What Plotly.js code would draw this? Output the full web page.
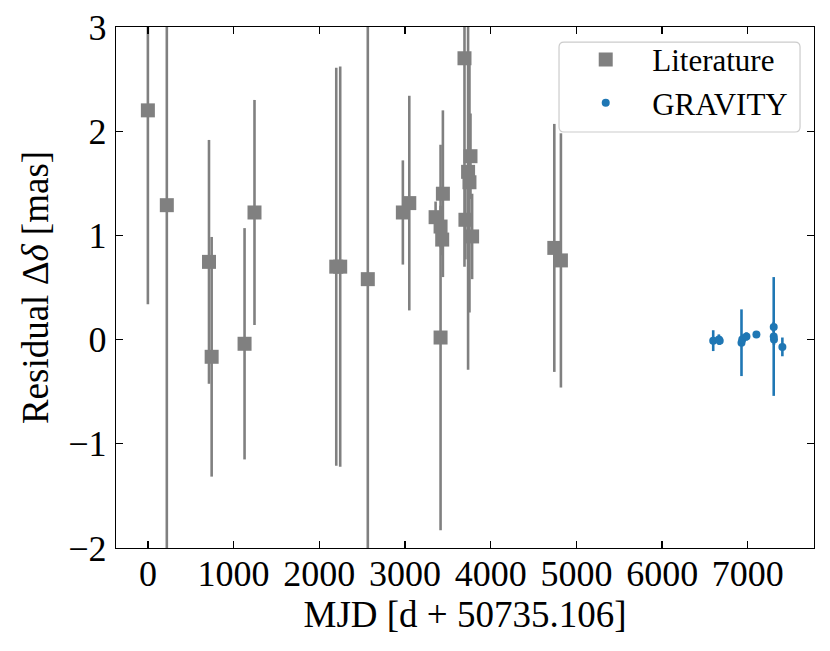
<!DOCTYPE html>
<html>
<head>
<meta charset="utf-8">
<script src="https://cdn.plot.ly/plotly-3.0.1.min.js"></script>
<style>html,body{margin:0;padding:0;background:#fff;}#chart{width:830px;height:651px;}</style>
</head>
<body>
<div id="chart"></div>
<script>
// Literature residuals
const litMJD = [0, 221, 713, 744, 1128, 1244, 2198, 2244, 2566, 2975, 3050, 3357, 3415, 3434, 3442, 3415, 3694, 3736, 3752, 3764, 3705, 3783, 4742, 4819];
const litRes = [2.20, 1.29, 0.746, -0.165, -0.04, 1.22, 0.70, 0.70, 0.58, 1.22, 1.31, 1.175, 1.085, 0.96, 1.40, 0.02, 2.70, 1.61, 1.51, 1.76, 1.15, 0.99, 0.88, 0.76];
const litErr = [1.86, 3.6, 1.17, 1.15, 1.11, 1.08, 1.91, 1.92, 4.0, 0.50, 1.03, 0.15, 0.20, 0.15, 0.80, 1.85, 2.0, 1.9, 1.25, 0.41, 0.38, 0.41, 1.19, 1.22];

// GRAVITY residuals
const gravMJD = [6596, 6662, 6672, 6926, 6935, 6984, 7100, 7302, 7302, 7305, 7403];
const gravRes = [-0.01, 0.0, -0.01, -0.03, 0.0, 0.03, 0.05, 0.12, 0.03, 0.0, -0.07];
const gravErr = [0.10, 0.05, 0.04, 0.32, 0.05, 0.04, 0.03, 0.05, 0.57, 0.05, 0.09];

const xTicks = [0, 1000, 2000, 3000, 4000, 5000, 6000, 7000];
const yTicks = [-2, -1, 0, 1, 2, 3];

const FONT = "Liberation Serif, Times New Roman, serif";

const traces = [
  {
    type: 'scatter', mode: 'markers', name: 'Literature',
    x: litMJD, y: litRes,
    error_y: {type: 'data', array: litErr, visible: true, color: '#808080', thickness: 2.6, width: 0},
    marker: {symbol: 'square', size: 14, color: '#808080', line: {width: 0}}
  },
  {
    type: 'scatter', mode: 'markers', name: 'GRAVITY',
    x: gravMJD, y: gravRes,
    error_y: {type: 'data', array: gravErr, visible: true, color: '#1f77b4', thickness: 2.6, width: 0},
    marker: {symbol: 'circle', size: 8, color: '#1f77b4', line: {width: 0}}
  }
];

const axisCommon = {
  showgrid: false, zeroline: false, showline: true, linecolor: '#000', linewidth: 1.3,
  mirror: 'ticks', ticks: 'inside', ticklen: 7, tickwidth: 1.3, tickcolor: '#000',
  tickfont: {family: FONT, size: 36, color: '#000'}
};

// legend frame (rounded rectangle, paper coordinates)
function roundedRect(x0, y0, x1, y1, rx, ry) {
  return `M ${x0 + rx},${y1} L ${x1 - rx},${y1} Q ${x1},${y1} ${x1},${y1 - ry} ` +
         `L ${x1},${y0 + ry} Q ${x1},${y0} ${x1 - rx},${y0} L ${x0 + rx},${y0} ` +
         `Q ${x0},${y0} ${x0},${y0 + ry} L ${x0},${y1 - ry} Q ${x0},${y1} ${x0 + rx},${y1} Z`;
}

const layout = {
  width: 830, height: 651,
  margin: {l: 116, r: 16, t: 27, b: 103},
  paper_bgcolor: '#fff', plot_bgcolor: '#fff',
  font: {family: FONT, color: '#000'},
  showlegend: true,
  xaxis: Object.assign({}, axisCommon, {
    range: [-372, 7772],
    tickvals: xTicks,
    ticklabelstandoff: -7,
    title: {text: 'MJD [d + 50735.106]', font: {family: FONT, size: 37, color: '#000'}, standoff: 6}
  }),
  yaxis: Object.assign({}, axisCommon, {
    range: [-2, 3],
    tickvals: yTicks,
    ticklabelstandoff: 1,
    title: {text: 'Residual Δ<i>δ</i> [mas]', font: {family: FONT, size: 37, color: '#000'}, standoff: 8}
  }),
  shapes: [{
    type: 'path', xref: 'paper', yref: 'paper', layer: 'above',
    path: roundedRect(0.6347, 0.7985, 0.98, 0.971, 0.0072, 0.0096),
    fillcolor: 'rgba(255,255,255,0.8)', line: {color: '#cccccc', width: 1.2}
  }],
  legend: {
    x: 0.635, y: 0.989, xanchor: 'left', yanchor: 'top',
    bgcolor: 'rgba(0,0,0,0)', borderwidth: 0,
    font: {family: FONT, size: 31, color: '#000'},
    itemwidth: 83
  }
};

Plotly.newPlot('chart', traces, layout, {displayModeBar: false, staticPlot: true});
</script>
</body>
</html>
